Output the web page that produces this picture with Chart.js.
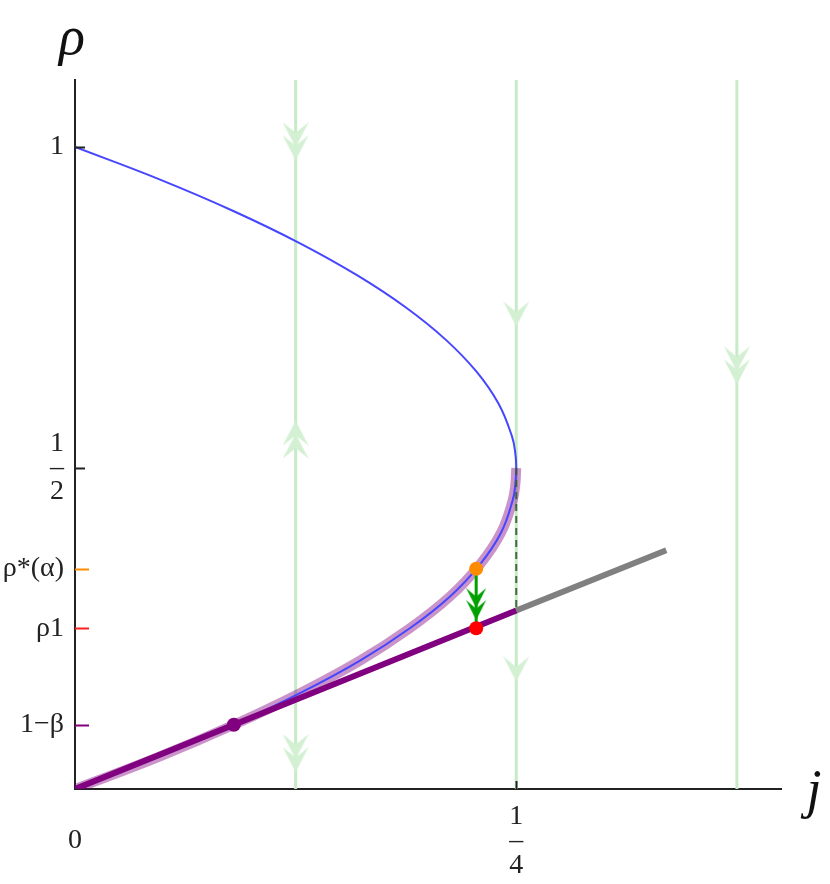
<!DOCTYPE html>
<html>
<head>
<meta charset="utf-8">
<script src="https://cdn.jsdelivr.net/npm/chart.js@4.4.1/dist/chart.umd.min.js"></script>
<style>
  html, body { margin: 0; padding: 0; background: #fff; overflow: hidden; }
  #wrap { position: relative; width: 830px; height: 884px; }
</style>
</head>
<body>
<div id="wrap"><canvas id="phaseChart"></canvas></div>
<script>
// curve rho vs j (full parabola, top to origin)
const curveRho = [1.0, 0.95, 0.9, 0.85, 0.8, 0.75, 0.7, 0.65, 0.6, 0.55, 0.525, 0.5, 0.475, 0.45, 0.4, 0.35, 0.3, 0.25, 0.2, 0.15, 0.1, 0.05, 0];
const curveJ   = [0, 0.0475, 0.09, 0.1275, 0.16, 0.1875, 0.21, 0.2275, 0.24, 0.2475, 0.2494, 0.25, 0.2495, 0.248, 0.2415, 0.2295, 0.2125, 0.1895, 0.1615, 0.128, 0.09, 0.0475, 0];
// lower branch highlighted in purple
const bandRho = [0.5, 0.475, 0.45, 0.4, 0.35, 0.3, 0.25, 0.2, 0.15, 0.1, 0.05, 0];
const bandJ   = [0.25, 0.2495, 0.248, 0.2415, 0.2295, 0.2125, 0.1895, 0.1615, 0.128, 0.09, 0.0475, 0];

// straight line rho = j / beta
const lineJ = [0, 0.25];
const lineRho = [0, 0.278];
const greyJ = [0.25, 0.335];
const greyRho = [0.278, 0.372];
const dashJ = [0.25, 0.25];
const dashRho = [0.5, 0.278];

// special points: 1-beta, rho*(alpha), rho1
const pointJ = [0.09, 0.2273, 0.2273];
const pointRho = [0.1, 0.343, 0.2505];
const pointColors = ['#800080', '#ff8c00', '#ff0000'];

// flow lines and their arrow marks
const streamJ = [0.125, 0.25, 0.375];
const downDoubleJ = [0.125, 0.125, 0.375];
const downDoubleRho = [1.009, 0.056, 0.66];
const upDoubleJ = [0.125];
const upDoubleRho = [0.544];
const downSingleJ = [0.25, 0.25];
const downSingleRho = [0.74, 0.187];
const greenHeadJ = [0.2273];
const greenHeadRho = [0.288];

// axis ticks
const yTickVals = [1, 0.5, 0.343, 0.2505, 0.1];
const yTickLabels = ['1', ['1', '\u2013', '2'], '\u03c1*(\u03b1)', '\u03c11', '1\u2212\u03b2'];
const yTickColors = ['#222', '#222', '#ff8c00', '#ff2020', '#800080'];
const xTickVals = [0, 0.25];
const xTickLabels = [['', '0'], ['1', '\u2013', '4']];

const jMax = 0.4;
const rhoMax = 1.1044;

const pts = (xs, ys) => xs.map((x, i) => ({ x: x, y: ys[i] }));

function chevrons(count, w, h, gap, color) {
  const c = document.createElement('canvas');
  c.width = w;
  c.height = h + gap * (count - 1);
  const g = c.getContext('2d');
  g.fillStyle = color;
  for (let k = 0; k < count; k++) {
    const top = k * gap;
    g.beginPath();
    g.moveTo(w / 2, top + h);
    g.lineTo(0, top);
    g.lineTo(w / 2, top + h * 0.42);
    g.lineTo(w, top);
    g.closePath();
    g.fill();
  }
  return c;
}

const streamHead2 = chevrons(2, 26, 25, 13, '#d3f0d3');
const streamHead1 = chevrons(1, 26, 25, 0, '#d3f0d3');
const greenHead = chevrons(2, 20, 20, 12, '#00a000');

const lineDs = (data, color, width, extra) => Object.assign({
  data: data, showLine: true, borderColor: color, borderWidth: width,
  pointRadius: 0, fill: false, tension: 0, borderCapStyle: 'butt'
}, extra || {});
const markDs = (data, style, rot) => ({
  data: data, showLine: false, pointStyle: style, pointRotation: rot,
  pointRadius: 13, pointHoverRadius: 13
});

// bottom to top
const datasets = [
  ...streamJ.map(j => lineDs(pts([j, j], [0, rhoMax]), '#c6ebc6', 3)),
  markDs(pts(downDoubleJ, downDoubleRho), streamHead2, 0),
  markDs(pts(upDoubleJ, upDoubleRho), streamHead2, 180),
  markDs(pts(downSingleJ, downSingleRho), streamHead1, 0),
  lineDs(pts(bandJ, bandRho), 'rgba(128,0,128,0.42)', 10, { tension: 0.4 }),
  lineDs(pts(curveJ, curveRho), '#4646ff', 2, { tension: 0.4 }),
  lineDs(pts(dashJ, dashRho), 'rgba(50,95,50,0.9)', 2, { borderDash: [7, 5] }),
  lineDs(pts(greyJ, greyRho), '#808080', 6),
  lineDs(pts(lineJ, lineRho), '#800080', 6),
  lineDs(pts([pointJ[1], pointJ[2]], [pointRho[1], pointRho[2]]), '#00a000', 3),
  markDs(pts(greenHeadJ, greenHeadRho), greenHead, 0),
  {
    data: pts(pointJ, pointRho), showLine: false, pointRadius: 7, pointHoverRadius: 7,
    pointBackgroundColor: pointColors, pointBorderWidth: 0
  }
].map((d, i, arr) => Object.assign(d, { order: arr.length - i }));

const serif = '"Liberation Serif", "DejaVu Serif", serif';

const extras = {
  id: 'extras',
  afterDraw(chart) {
    const ctx = chart.ctx;
    const xs = chart.scales.x, ys = chart.scales.y;
    const x0 = xs.getPixelForValue(0), y0 = ys.getPixelForValue(0);
    ctx.save();
    ctx.lineWidth = 2;
    // inner tick marks
    yTickVals.forEach((v, i) => {
      const y = Math.round(ys.getPixelForValue(v)) + 0.5;
      ctx.strokeStyle = yTickColors[i];
      ctx.beginPath();
      ctx.moveTo(x0, y);
      ctx.lineTo(x0 + (i < 2 ? 10 : 14), y);
      ctx.stroke();
    });
    ctx.strokeStyle = '#222';
    const xq = Math.round(xs.getPixelForValue(0.25)) + 0.5;
    ctx.beginPath();
    ctx.moveTo(xq, y0);
    ctx.lineTo(xq, y0 - 8);
    ctx.stroke();
    // axis names
    ctx.fillStyle = '#111';
    ctx.font = 'italic 54px ' + serif;
    ctx.textAlign = 'center';
    ctx.textBaseline = 'alphabetic';
    ctx.fillText('\u03c1', x0 - 3, chart.chartArea.top - 26);
    ctx.fillText('j', chart.chartArea.right + 33, y0 + 18);
    ctx.restore();
  }
};

new Chart(document.getElementById('phaseChart'), {
  type: 'scatter',
  data: { datasets: datasets },
  options: {
    responsive: true,
    maintainAspectRatio: false,
    animation: false,
    events: [],
    layout: { padding: { top: 80, right: 49, left: 0, bottom: 0 } },
    plugins: { legend: { display: false }, tooltip: { enabled: false } },
    scales: {
      x: {
        type: 'linear', min: 0, max: jMax,
        afterBuildTicks: s => { s.ticks = xTickVals.map(v => ({ value: v })); },
        afterFit: s => { s.height = 95; },
        grid: { display: false, drawTicks: false },
        border: { display: true, color: '#222', width: 2 },
        ticks: {
          autoSkip: false, maxRotation: 0, padding: 16, color: '#222',
          font: { family: serif, size: 28, lineHeight: 0.86 },
          callback: (v, i) => xTickLabels[i]
        }
      },
      y: {
        type: 'linear', min: 0, max: rhoMax,
        afterBuildTicks: s => { s.ticks = yTickVals.map(v => ({ value: v })); },
        afterFit: s => { s.width = 75; },
        grid: { display: false, drawTicks: false },
        border: { display: true, color: '#222', width: 2 },
        ticks: {
          autoSkip: false, padding: 11, color: '#222',
          font: { family: serif, size: 28, lineHeight: 0.86 },
          callback: (v, i) => yTickLabels[i]
        }
      }
    }
  },
  plugins: [extras]
});
</script>
</body>
</html>
